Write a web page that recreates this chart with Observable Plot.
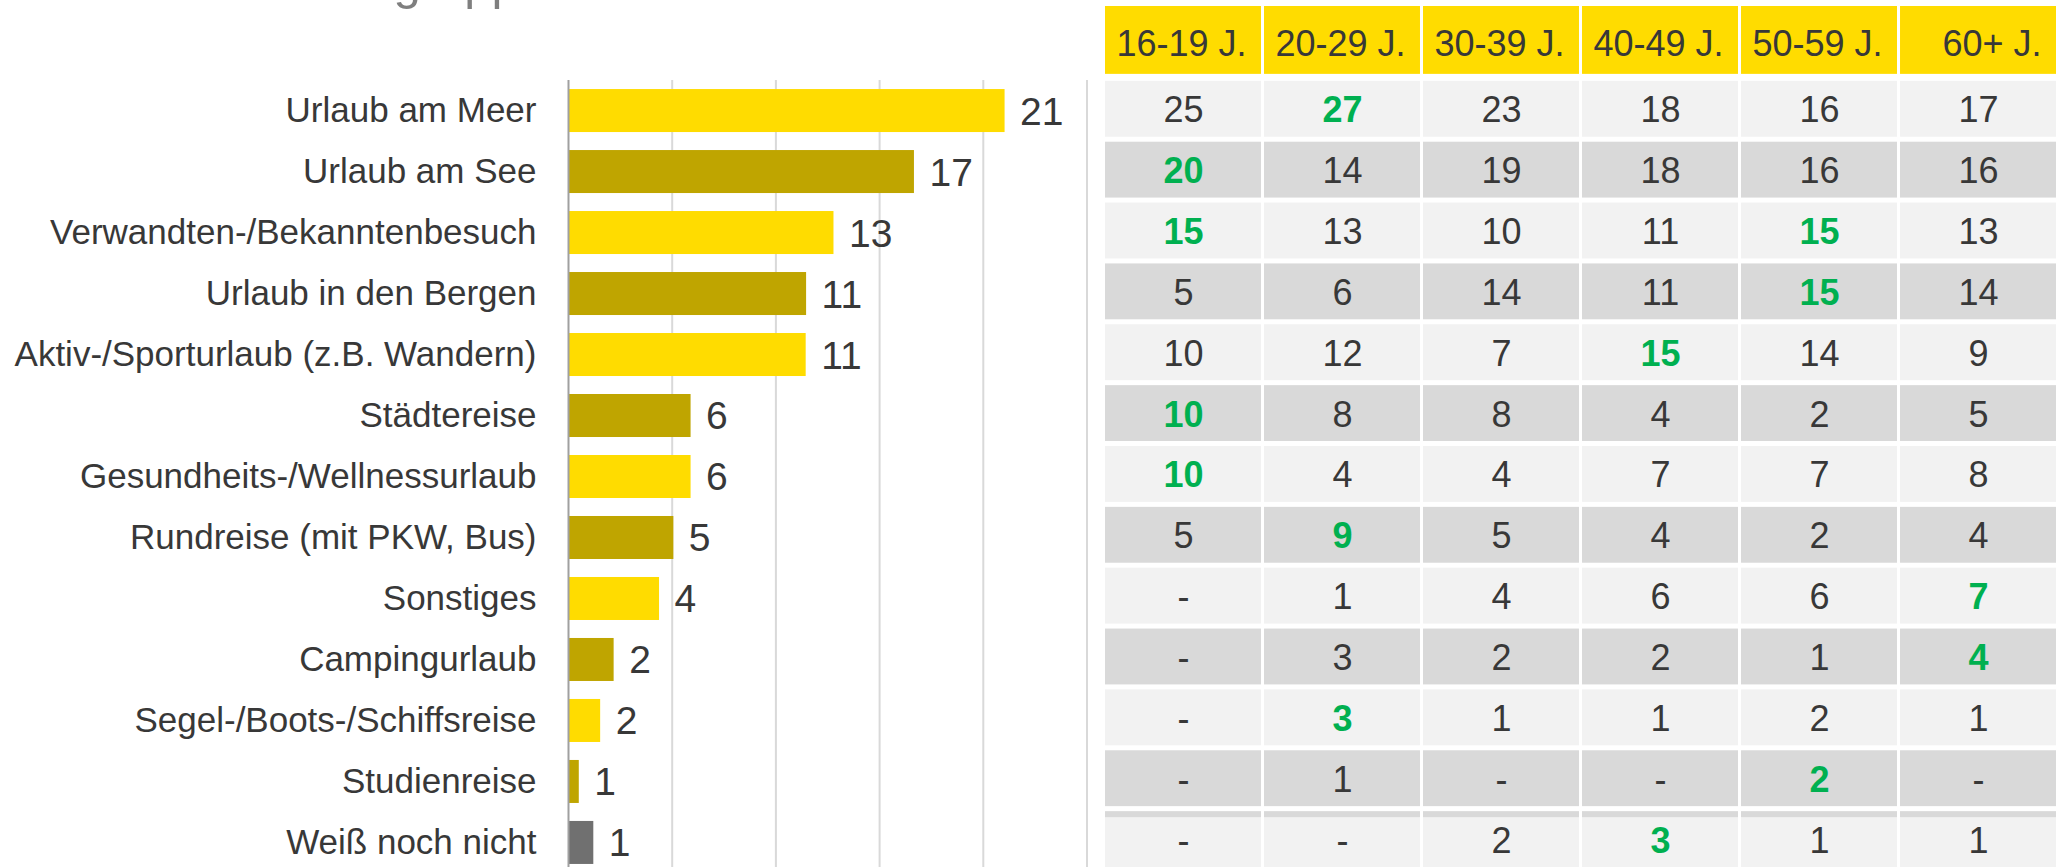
<!DOCTYPE html>
<html>
<head>
<meta charset="utf-8">
<script src="https://cdn.jsdelivr.net/npm/d3@7"></script>
<script src="https://cdn.jsdelivr.net/npm/@observablehq/plot@0.6"></script>
<style>
  html, body { margin: 0; padding: 0; background: #fff; }
  #wrap { position: relative; width: 2067px; height: 867px; overflow: hidden; background: #fff;
          font-family: "Liberation Sans", Arial, sans-serif; }
  #title { position: absolute; left: 4px; top: -42px; font-size: 49px; line-height: 49px;
           color: #7f7f7f; white-space: nowrap; }
  #bars { position: absolute; left: 0; top: 0; }
  #table { position: absolute; left: 1090px; top: 0; }
</style>
</head>
<body>
<div id="wrap">
  <div id="title">Urlaubsart / Altersgruppen</div>
  <div id="bars"></div>
  <div id="table"></div>
</div>
<script>
// ---- data ----
const categories = [
  "Urlaub am Meer",
  "Urlaub am See",
  "Verwandten-/Bekanntenbesuch",
  "Urlaub in den Bergen",
  "Aktiv-/Sporturlaub (z.B. Wandern)",
  "Städtereise",
  "Gesundheits-/Wellnessurlaub",
  "Rundreise (mit PKW, Bus)",
  "Sonstiges",
  "Campingurlaub",
  "Segel-/Boots-/Schiffsreise",
  "Studienreise",
  "Weiß noch nicht"
];
// total shares (bar lengths)
const totalShares = [21.05, 16.68, 12.8, 11.48, 11.46, 5.91, 5.91, 5.08, 4.39, 2.2, 1.55, 0.52, 1.22];
// printed labels next to the bars
const totalLabels = [21, 17, 13, 11, 11, 6, 6, 5, 4, 2, 2, 1, 1];
const xTicks = [0, 5, 10, 15, 20, 25];

const ageGroups = ["16-19 J.", "20-29 J.", "30-39 J.", "40-49 J.", "50-59 J.", "60+ J."];
// one array per age group, in category order (null = "-")
const age16_19 = [25, 20, 15, 5, 10, 10, 10, 5, null, null, null, null, null];
const age20_29 = [27, 14, 13, 6, 12, 8, 4, 9, 1, 3, 3, 1, null];
const age30_39 = [23, 19, 10, 14, 7, 8, 4, 5, 4, 2, 1, null, 2];
const age40_49 = [18, 18, 11, 11, 15, 4, 7, 4, 6, 2, 1, null, 3];
const age50_59 = [16, 16, 15, 15, 14, 2, 7, 2, 6, 1, 2, 2, 1];
const age60plus = [17, 16, 13, 14, 9, 5, 8, 4, 7, 4, 1, null, 1];

// ---- styles ----
const FONT = '"Liberation Sans", Arial, sans-serif';
const YELLOW = "#FFDC00", OLIVE = "#BFA500", GREY = "#707070";
const LIGHT = "#F2F2F2", DARK = "#D9D9D9", GREEN = "#00B050", TEXT = "#383838";

// ---- bar chart ----
const barRows = categories.map((c, i) => ({
  category: c, value: totalShares[i], label: String(totalLabels[i]),
  color: c === "Weiß noch nicht" ? GREY : (i % 2 ? OLIVE : YELLOW)
}));

const barPlot = Plot.plot({
  width: 1100, height: 867,
  marginLeft: 568, marginRight: 13.5, marginTop: 86, marginBottom: 0,
  style: { fontFamily: FONT, fontSize: "35px", color: TEXT, background: "transparent", overflow: "visible" },
  x: { domain: [0, 25], axis: null },
  y: { domain: categories, paddingInner: 0.295, paddingOuter: 0.05, round: false, label: null, tickSize: 0, tickPadding: 32 },
  color: { type: "identity" },
  marks: [
    Plot.ruleX(xTicks.slice(1), { stroke: "#d9d9d9", strokeWidth: 2, insetTop: -6 }),
    Plot.barX(barRows, { x: "value", y: "category", fill: "color" }),
    Plot.ruleX([0], { stroke: "#a0a0a0", strokeWidth: 2, insetTop: -6 }),
    Plot.text(barRows, { x: "value", y: "category", text: "label", dx: 15, dy: 1, textAnchor: "start", fontSize: 39, fill: TEXT })
  ]
});
document.getElementById("bars").appendChild(barPlot);

// ---- table ----
const ageSeries = [age16_19, age20_29, age30_39, age40_49, age50_59, age60plus];
const HEADER = "__header";
const cells = [];
categories.forEach((c, i) => {
  const rowVals = ageSeries.map(s => s[i]);
  const rowMax = d3.max(rowVals);
  ageGroups.forEach((a, j) => {
    const v = rowVals[j];
    cells.push({
      category: c, age: a, value: v,
      text: v == null ? "-" : String(v),
      highlight: v != null && v === rowMax,
      shade: i % 2 ? DARK : LIGHT,
      last: i === categories.length - 1
    });
  });
});

const tablePlot = Plot.plot({
  width: 977, height: 867,
  marginLeft: 15, marginRight: 11, marginTop: 20, marginBottom: 0,
  style: { fontFamily: FONT, fontSize: "36px", color: TEXT, background: "transparent", overflow: "visible" },
  x: { domain: ageGroups, paddingInner: 0.019, paddingOuter: 0, round: false, axis: null },
  y: { domain: [HEADER, ...categories], paddingInner: 0.082, paddingOuter: 0, round: false, axis: null },
  color: { type: "identity" },
  marks: [
    // header
    Plot.cell(ageGroups, { x: d => d, y: () => HEADER, fill: YELLOW, insetTop: -14, insetBottom: 2 }),
    Plot.text(ageGroups, { x: d => d, y: () => HEADER, text: d => d, textAnchor: "end", dx: 63, dy: -4, fontSize: 36, fill: TEXT }),
    // body backgrounds
    Plot.cell(cells.filter(d => !d.last), { x: "age", y: "category", fill: "shade" }),
    Plot.cell(cells.filter(d => d.last), { x: "age", y: "category", fill: DARK }),
    Plot.cell(cells.filter(d => d.last), { x: "age", y: "category", fill: LIGHT, insetTop: 6 }),
    // body values
    Plot.text(cells.filter(d => !d.highlight), { x: "age", y: "category", text: "text", dy: 1.5, fontSize: 36, fill: TEXT }),
    Plot.text(cells.filter(d => d.highlight), { x: "age", y: "category", text: "text", dy: 1.5, fontSize: 36, fontWeight: "bold", fill: GREEN })
  ]
});
document.getElementById("table").appendChild(tablePlot);
</script>
</body>
</html>
